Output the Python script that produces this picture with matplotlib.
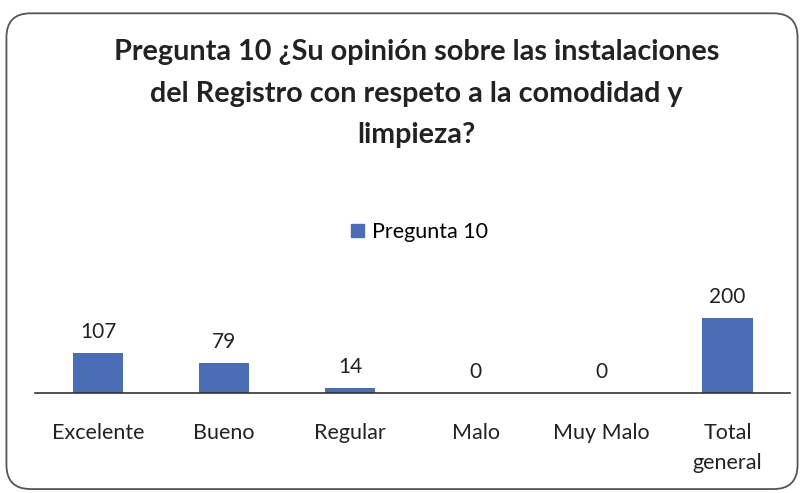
"""Pregunta 10 bar chart with value labels and rounded frame."""

import matplotlib.pyplot as plt
from matplotlib.patches import FancyBboxPatch, Patch

categories = ["Excelente", "Bueno", "Regular", "Malo", "Muy Malo", "Total\ngeneral"]
values = [107, 79, 14, 0, 0, 200]
series_name = "Pregunta 10"
title = ("Pregunta 10 ¿Su opinión sobre las instalaciones\n"
         "del Registro con respeto a la comodidad y\n"
         "limpieza?")

BAR_COLOR = "#4a6db5"
plt.rcParams["font.family"] = ["Lato", "DejaVu Sans"]

fig = plt.figure(figsize=(8.04, 4.93), dpi=100)

# rounded chart frame, drawn behind the axes
frame = FancyBboxPatch((0.008, 0.008), 0.984, 0.965,
                       boxstyle="round,pad=0,rounding_size=0.03",
                       transform=fig.transFigure, fc="none", ec="#555555",
                       lw=1.3, mutation_aspect=804 / 493, zorder=-1)
fig.patches.append(frame)

fig.text(0.518, 0.921, title, ha="center", va="top", fontsize=20.7,
         fontweight="bold", color="#222222", linespacing=1.75)

ax = fig.add_axes([0.044, 0.203, 0.939, 0.25])
x = range(len(categories))
ax.bar(x, values, width=0.4, color=BAR_COLOR)
ax.set_xlim(-0.5, len(categories) - 0.5)
ax.set_ylim(0, 200 * 0.25 * 493 / 75)
ax.set_xticks(list(x))
ax.set_xticklabels(categories, fontsize=15.5, color="#222222", linespacing=1.6)
ax.tick_params(axis="x", length=0, pad=22)
ax.set_yticks([])
for side in ("top", "right", "left"):
    ax.spines[side].set_visible(False)
ax.spines["bottom"].set_color("#333333")
ax.spines["bottom"].set_linewidth(1.2)
ax.patch.set_alpha(0)

for i, v in zip(x, values):
    ax.annotate(str(v), (i, v), xytext=(0, 8), textcoords="offset points",
                ha="center", va="bottom", fontsize=15, color="#222222")

fig.legend(handles=[Patch(color=BAR_COLOR, label=series_name)],
           loc="center", bbox_to_anchor=(0.522, 0.529), frameon=False,
           fontsize=15.5, handlelength=0.6, handleheight=0.6, handletextpad=0.4)

plt.savefig("out.png", dpi=100)
